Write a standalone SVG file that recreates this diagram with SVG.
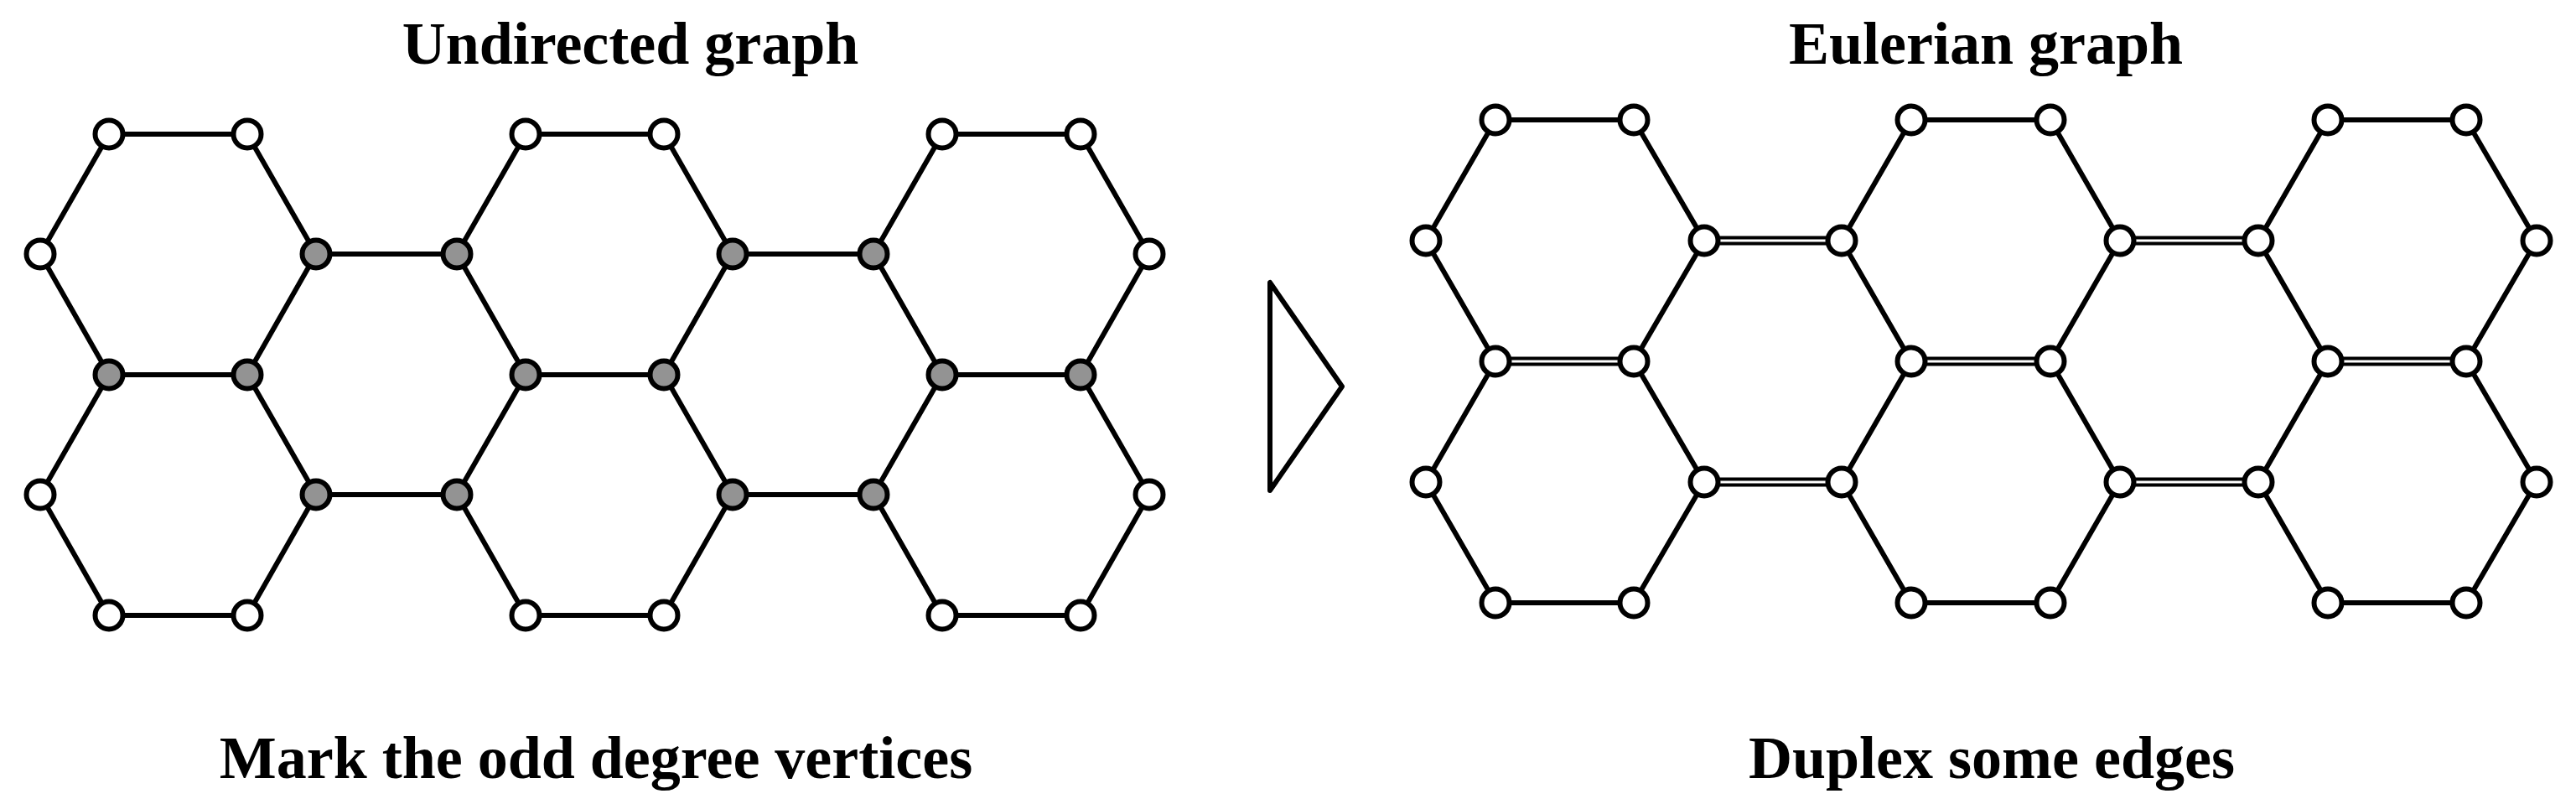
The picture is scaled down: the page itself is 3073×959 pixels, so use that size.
<svg xmlns="http://www.w3.org/2000/svg" width="3073" height="959" viewBox="0 0 3073 959">
<style>
.t{font-family:"Liberation Serif","Times New Roman",serif;font-weight:bold;font-size:72px;fill:#000;text-anchor:middle}
.e{fill:none;stroke:#000;stroke-width:6;stroke-linecap:round}
.d1{fill:none;stroke:#000;stroke-width:11}
.d2{fill:none;stroke:#fff;stroke-width:3}
.w{fill:#fff;stroke:#000;stroke-width:6}
.g{fill:#939393;stroke:#000;stroke-width:6}
.tri{fill:#fff;stroke:#000;stroke-width:6;stroke-linejoin:round}
</style>
<rect width="3073" height="959" fill="#fff"/>
<text class="t" x="752" y="76">Undirected graph</text>
<text class="t" x="2369" y="76">Eulerian graph</text>
<text class="t" x="711" y="928">Mark the odd degree vertices</text>
<text class="t" x="2376" y="928">Duplex some edges</text>
<polygon id="arrow" class="tri" points="1515,337 1515,585 1601,461"/>
<g id="connectors">
<path class="e" d="M130,160H295M627,160H792M1124,160H1289
M130,160L48,303M295,160L377,303M627,160L545,303M792,160L874,303M1124,160L1042,303M1289,160L1371,303
M48,303L130,447M377,303L295,447M545,303L627,447M874,303L792,447M1042,303L1124,447M1371,303L1289,447
M130,447H295M627,447H792M1124,447H1289
M130,447L48,590M295,447L377,590M627,447L545,590M792,447L874,590M1124,447L1042,590M1289,447L1371,590
M48,590L130,734M377,590L295,734M545,590L627,734M874,590L792,734M1042,590L1124,734M1371,590L1289,734
M130,734H295M627,734H792M1124,734H1289
M377,303H545M874,303H1042M377,590H545M874,590H1042"/>
<path class="e" d="M1784,143H1949M2280,143H2446M2777,143H2942
M1784,143L1701,287M1949,143L2033,287M2280,143L2197,287M2446,143L2529,287M2777,143L2694,287M2942,143L3026,287
M1701,287L1784,431M2033,287L1949,431M2197,287L2280,431M2529,287L2446,431M2694,287L2777,431M3026,287L2942,431
M1784,431L1701,575M1949,431L2033,575M2280,431L2197,575M2446,431L2529,575M2777,431L2694,575M2942,431L3026,575
M1701,575L1784,719M2033,575L1949,719M2197,575L2280,719M2529,575L2446,719M2694,575L2777,719M3026,575L2942,719
M1784,719H1949M2280,719H2446M2777,719H2942"/>
<path class="d1" d="M2033,287H2197M2529,287H2694M1784,431H1949M2280,431H2446M2777,431H2942M2033,575H2197M2529,575H2694"/>
<path class="d2" d="M2033,287H2197M2529,287H2694M1784,431H1949M2280,431H2446M2777,431H2942M2033,575H2197M2529,575H2694"/>
</g>
<g id="L-A1"><circle class="w" cx="130" cy="160" r="16.5"/></g>
<g id="L-A2"><circle class="w" cx="295" cy="160" r="16.5"/></g>
<g id="L-A3"><circle class="w" cx="627" cy="160" r="16.5"/></g>
<g id="L-A4"><circle class="w" cx="792" cy="160" r="16.5"/></g>
<g id="L-A5"><circle class="w" cx="1124" cy="160" r="16.5"/></g>
<g id="L-A6"><circle class="w" cx="1289" cy="160" r="16.5"/></g>
<g id="L-B1"><circle class="w" cx="48" cy="303" r="16.5"/></g>
<g id="L-B2"><circle class="g" cx="377" cy="303" r="16.5"/></g>
<g id="L-B3"><circle class="g" cx="545" cy="303" r="16.5"/></g>
<g id="L-B4"><circle class="g" cx="874" cy="303" r="16.5"/></g>
<g id="L-B5"><circle class="g" cx="1042" cy="303" r="16.5"/></g>
<g id="L-B6"><circle class="w" cx="1371" cy="303" r="16.5"/></g>
<g id="L-C1"><circle class="g" cx="130" cy="447" r="16.5"/></g>
<g id="L-C2"><circle class="g" cx="295" cy="447" r="16.5"/></g>
<g id="L-C3"><circle class="g" cx="627" cy="447" r="16.5"/></g>
<g id="L-C4"><circle class="g" cx="792" cy="447" r="16.5"/></g>
<g id="L-C5"><circle class="g" cx="1124" cy="447" r="16.5"/></g>
<g id="L-C6"><circle class="g" cx="1289" cy="447" r="16.5"/></g>
<g id="L-D1"><circle class="w" cx="48" cy="590" r="16.5"/></g>
<g id="L-D2"><circle class="g" cx="377" cy="590" r="16.5"/></g>
<g id="L-D3"><circle class="g" cx="545" cy="590" r="16.5"/></g>
<g id="L-D4"><circle class="g" cx="874" cy="590" r="16.5"/></g>
<g id="L-D5"><circle class="g" cx="1042" cy="590" r="16.5"/></g>
<g id="L-D6"><circle class="w" cx="1371" cy="590" r="16.5"/></g>
<g id="L-E1"><circle class="w" cx="130" cy="734" r="16.5"/></g>
<g id="L-E2"><circle class="w" cx="295" cy="734" r="16.5"/></g>
<g id="L-E3"><circle class="w" cx="627" cy="734" r="16.5"/></g>
<g id="L-E4"><circle class="w" cx="792" cy="734" r="16.5"/></g>
<g id="L-E5"><circle class="w" cx="1124" cy="734" r="16.5"/></g>
<g id="L-E6"><circle class="w" cx="1289" cy="734" r="16.5"/></g>
<g id="R-A1"><circle class="w" cx="1784" cy="143" r="16.5"/></g>
<g id="R-A2"><circle class="w" cx="1949" cy="143" r="16.5"/></g>
<g id="R-A3"><circle class="w" cx="2280" cy="143" r="16.5"/></g>
<g id="R-A4"><circle class="w" cx="2446" cy="143" r="16.5"/></g>
<g id="R-A5"><circle class="w" cx="2777" cy="143" r="16.5"/></g>
<g id="R-A6"><circle class="w" cx="2942" cy="143" r="16.5"/></g>
<g id="R-B1"><circle class="w" cx="1701" cy="287" r="16.5"/></g>
<g id="R-B2"><circle class="w" cx="2033" cy="287" r="16.5"/></g>
<g id="R-B3"><circle class="w" cx="2197" cy="287" r="16.5"/></g>
<g id="R-B4"><circle class="w" cx="2529" cy="287" r="16.5"/></g>
<g id="R-B5"><circle class="w" cx="2694" cy="287" r="16.5"/></g>
<g id="R-B6"><circle class="w" cx="3026" cy="287" r="16.5"/></g>
<g id="R-C1"><circle class="w" cx="1784" cy="431" r="16.5"/></g>
<g id="R-C2"><circle class="w" cx="1949" cy="431" r="16.5"/></g>
<g id="R-C3"><circle class="w" cx="2280" cy="431" r="16.5"/></g>
<g id="R-C4"><circle class="w" cx="2446" cy="431" r="16.5"/></g>
<g id="R-C5"><circle class="w" cx="2777" cy="431" r="16.5"/></g>
<g id="R-C6"><circle class="w" cx="2942" cy="431" r="16.5"/></g>
<g id="R-D1"><circle class="w" cx="1701" cy="575" r="16.5"/></g>
<g id="R-D2"><circle class="w" cx="2033" cy="575" r="16.5"/></g>
<g id="R-D3"><circle class="w" cx="2197" cy="575" r="16.5"/></g>
<g id="R-D4"><circle class="w" cx="2529" cy="575" r="16.5"/></g>
<g id="R-D5"><circle class="w" cx="2694" cy="575" r="16.5"/></g>
<g id="R-D6"><circle class="w" cx="3026" cy="575" r="16.5"/></g>
<g id="R-E1"><circle class="w" cx="1784" cy="719" r="16.5"/></g>
<g id="R-E2"><circle class="w" cx="1949" cy="719" r="16.5"/></g>
<g id="R-E3"><circle class="w" cx="2280" cy="719" r="16.5"/></g>
<g id="R-E4"><circle class="w" cx="2446" cy="719" r="16.5"/></g>
<g id="R-E5"><circle class="w" cx="2777" cy="719" r="16.5"/></g>
<g id="R-E6"><circle class="w" cx="2942" cy="719" r="16.5"/></g>
</svg>
